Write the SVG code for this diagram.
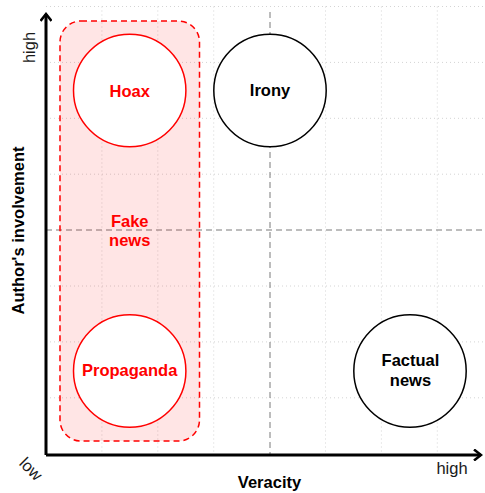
<svg xmlns="http://www.w3.org/2000/svg" width="485" height="493" viewBox="0 0 485 493">
  <style>
    text { font-family: "Liberation Sans", Arial, sans-serif; font-size: 16.5px; text-anchor: middle; }
    .bold { font-weight: bold; }
    .red { fill: #ff0000; }
    .dark { fill: #000000; }
    .tick { fill: #1a1a1a; }
    .grid line { stroke: #d4d4d4; stroke-width: 1; stroke-dasharray: 1 3; }
    .divider { stroke: #7a7a7a; stroke-width: 1; stroke-dasharray: 6 4; fill: none; }
    .axis { stroke: #000000; stroke-width: 3; fill: none; }
    .bubble-red { fill: #ffffff; stroke: #ff0000; stroke-width: 1.5; }
    .bubble-black { fill: #ffffff; stroke: #000000; stroke-width: 1.5; }
  </style>
  <defs>
    <marker id="open-arrow" viewBox="0 0 12 12" refX="10" refY="6" markerWidth="12" markerHeight="12" markerUnits="userSpaceOnUse" orient="auto">
      <path d="M3,0.5 L10,6 L3,11.5" fill="none" stroke="#000000" stroke-width="2.5"/>
    </marker>
  </defs>

  <rect width="485" height="493" fill="#ffffff"/>

  <!-- background grid -->
  <g class="grid">
    <line x1="46" y1="6.5" x2="485" y2="6.5"/>
    <line x1="46" y1="62.4" x2="485" y2="62.4"/>
    <line x1="46" y1="118.3" x2="485" y2="118.3"/>
    <line x1="46" y1="174.2" x2="485" y2="174.2"/>
    <line x1="46" y1="286" x2="485" y2="286"/>
    <line x1="46" y1="341.9" x2="485" y2="341.9"/>
    <line x1="46" y1="397.8" x2="485" y2="397.8"/>
    <line x1="101.9" y1="6.5" x2="101.9" y2="455"/>
    <line x1="157.8" y1="6.5" x2="157.8" y2="455"/>
    <line x1="213.7" y1="6.5" x2="213.7" y2="455"/>
    <line x1="325.5" y1="6.5" x2="325.5" y2="455"/>
    <line x1="381.4" y1="6.5" x2="381.4" y2="455"/>
    <line x1="437.3" y1="6.5" x2="437.3" y2="455"/>
  </g>

  <!-- axes and quadrant dividers -->
  <g id="connectors">
    <line class="divider" x1="270" y1="12" x2="270" y2="455"/>
    <line class="divider" x1="46" y1="230" x2="485" y2="230"/>
    <line class="axis" x1="46" y1="455" x2="46" y2="14" marker-end="url(#open-arrow)"/>
    <line class="axis" x1="46" y1="455" x2="481" y2="455" marker-end="url(#open-arrow)"/>
  </g>

  <!-- axis labels -->
  <g id="axis-labels">
    <text class="bold dark" transform="translate(23.5,230.5) rotate(-90)">Author's involvement</text>
    <text class="tick" transform="translate(35,47.5) rotate(-90)">high</text>
    <text class="tick" transform="translate(27,473) rotate(45)">low</text>
    <text class="bold dark" x="269.5" y="488">Veracity</text>
    <text class="tick" x="452" y="474">high</text>
  </g>

  <g id="fake-news">
    <rect x="60" y="21" width="139.5" height="420" rx="21" ry="21" fill="#ff0000" fill-opacity="0.1" stroke="#ff0000" stroke-width="1.5" stroke-dasharray="6 4"/>
    <text class="bold red" x="129.7" y="226.5">Fake</text>
    <text class="bold red" x="129.7" y="246">news</text>
  </g>

  <g id="hoax">
    <circle class="bubble-red" cx="129.7" cy="90.5" r="56.2"/>
    <text class="bold red" x="129.7" y="96.5">Hoax</text>
  </g>

  <g id="propaganda">
    <circle class="bubble-red" cx="129.7" cy="371" r="56.2"/>
    <text class="bold red" x="129.7" y="375.5">Propaganda</text>
  </g>

  <g id="irony">
    <circle class="bubble-black" cx="270" cy="90.5" r="56.2"/>
    <text class="bold dark" x="270" y="96">Irony</text>
  </g>

  <g id="factual-news">
    <circle class="bubble-black" cx="410" cy="371" r="56.2"/>
    <text class="bold dark" x="410.5" y="366">Factual</text>
    <text class="bold dark" x="410.5" y="386">news</text>
  </g>
</svg>
